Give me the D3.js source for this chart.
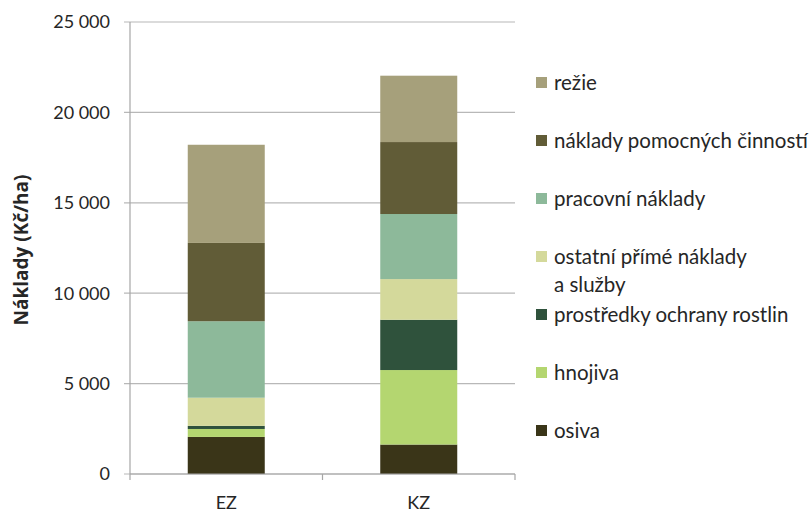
<!DOCTYPE html>
<html>
<head>
<meta charset="utf-8">
<script src="https://cdn.jsdelivr.net/npm/d3@7"></script>
<style>
  body { margin: 0; background: #fff; }
  svg { display: block; font-family: Lato, "Open Sans", sans-serif; }
</style>
</head>
<body>
<div id="chart"></div>
<script>
const width = 811, height = 513;

const categories = ['EZ', 'KZ'];
// od spodu nahoru
const seriesNames = [
  'osiva',
  'hnojiva',
  'prostředky ochrany rostlin',
  'ostatní přímé náklady a služby',
  'pracovní náklady',
  'náklady pomocných činností',
  'režie',
];
const seriesColors = ['#3a3518', '#b4d670', '#2f523c', '#d4d99b', '#8db99a', '#615c37', '#a6a07b'];
const valuesEZ = [2050, 440, 170, 1560, 4230, 4330, 5430];
const valuesKZ = [1630, 4120, 2780, 2250, 3600, 3980, 3670];
const yTicks = [0, 5000, 10000, 15000, 20000, 25000];

const margin = {top: 22, right: 296, bottom: 39, left: 130};
const fontSize = 18;

const svg = d3.select('#chart').append('svg')
  .attr('width', width)
  .attr('height', height);

const x = d3.scaleBand()
  .domain(categories)
  .range([margin.left, width - margin.right])
  .paddingInner(0.6)
  .paddingOuter(0.3);

const y = d3.scaleLinear()
  .domain([0, 25000])
  .range([height - margin.bottom, margin.top]);

const fmt = v => d3.format(',')(v).replace(/,/g, ' ');

// mřížka
svg.append('g')
  .selectAll('line')
  .data(yTicks)
  .join('line')
  .attr('x1', margin.left - 6)
  .attr('x2', width - margin.right)
  .attr('y1', d => y(d))
  .attr('y2', d => y(d))
  .attr('stroke', '#b8b8b8')
  .attr('stroke-width', 1.2);

// data pro stack
const table = categories.map((c, i) => {
  const row = {cat: c};
  const vals = i === 0 ? valuesEZ : valuesKZ;
  seriesNames.forEach((s, j) => row[s] = vals[j]);
  return row;
});
const stacked = d3.stack().keys(seriesNames)(table);

svg.append('g')
  .selectAll('g')
  .data(stacked)
  .join('g')
  .attr('fill', (d, i) => seriesColors[i])
  .selectAll('rect')
  .data(d => d)
  .join('rect')
  .attr('x', d => x(d.data.cat))
  .attr('width', x.bandwidth())
  .attr('y', d => y(d[1]))
  .attr('height', d => y(d[0]) - y(d[1]));

// osa y
svg.append('line')
  .attr('x1', margin.left).attr('x2', margin.left)
  .attr('y1', y(25000)).attr('y2', y(0))
  .attr('stroke', '#a6a6a6').attr('stroke-width', 1.2);

svg.append('g')
  .selectAll('text')
  .data(yTicks)
  .join('text')
  .attr('x', margin.left - 20)
  .attr('y', d => y(d))
  .attr('dy', '0.35em')
  .attr('text-anchor', 'end')
  .attr('font-size', fontSize)
  .attr('fill', '#262626')
  .text(fmt);

// osa x
const x0 = margin.left, x1 = width - margin.right;
svg.append('line')
  .attr('x1', x0).attr('x2', x1)
  .attr('y1', y(0)).attr('y2', y(0))
  .attr('stroke', '#a6a6a6').attr('stroke-width', 1.2);

const step = (x1 - x0) / categories.length;
svg.append('g')
  .selectAll('line')
  .data(d3.range(categories.length + 1))
  .join('line')
  .attr('x1', i => x0 + i * step).attr('x2', i => x0 + i * step)
  .attr('y1', y(0)).attr('y2', y(0) + 6)
  .attr('stroke', '#a6a6a6').attr('stroke-width', 1.2);

svg.append('g')
  .selectAll('text')
  .data(categories)
  .join('text')
  .attr('x', d => x(d) + x.bandwidth() / 2)
  .attr('y', y(0) + 29)
  .attr('dy', '0.35em')
  .attr('text-anchor', 'middle')
  .attr('font-size', fontSize)
  .attr('fill', '#262626')
  .text(d => d);

// popisek osy y
svg.append('text')
  .attr('transform', `translate(21, ${y(12500) + 2}) rotate(-90)`)
  .attr('text-anchor', 'middle')
  .attr('dy', '0.35em')
  .attr('font-family', '"Open Sans", sans-serif')
  .attr('font-size', 19)
  .attr('font-weight', 'bold')
  .attr('fill', '#262626')
  .text('Náklady (Kč/ha)');

// legenda (shora dolů)
const legendItems = seriesNames.map((s, i) => ({name: s, color: seriesColors[i]})).reverse();
const legendLines = {
  'ostatní přímé náklady a služby': ['ostatní přímé náklady', 'a služby'],
};
const legend = svg.append('g');
const lg = legend.selectAll('g')
  .data(legendItems)
  .join('g')
  .attr('transform', (d, i) => `translate(536, ${83 + i * 58})`);

lg.append('rect')
  .attr('x', 0).attr('y', -6)
  .attr('width', 11).attr('height', 11)
  .attr('fill', d => d.color);

lg.append('text')
  .attr('x', 18)
  .attr('font-size', 20.5)
  .attr('fill', '#262626')
  .selectAll('tspan')
  .data(d => legendLines[d.name] || [d.name])
  .join('tspan')
  .attr('x', 18)
  .attr('y', (d, i) => i * 28)
  .attr('dy', '0.35em')
  .text(d => d);
</script>
</body>
</html>
